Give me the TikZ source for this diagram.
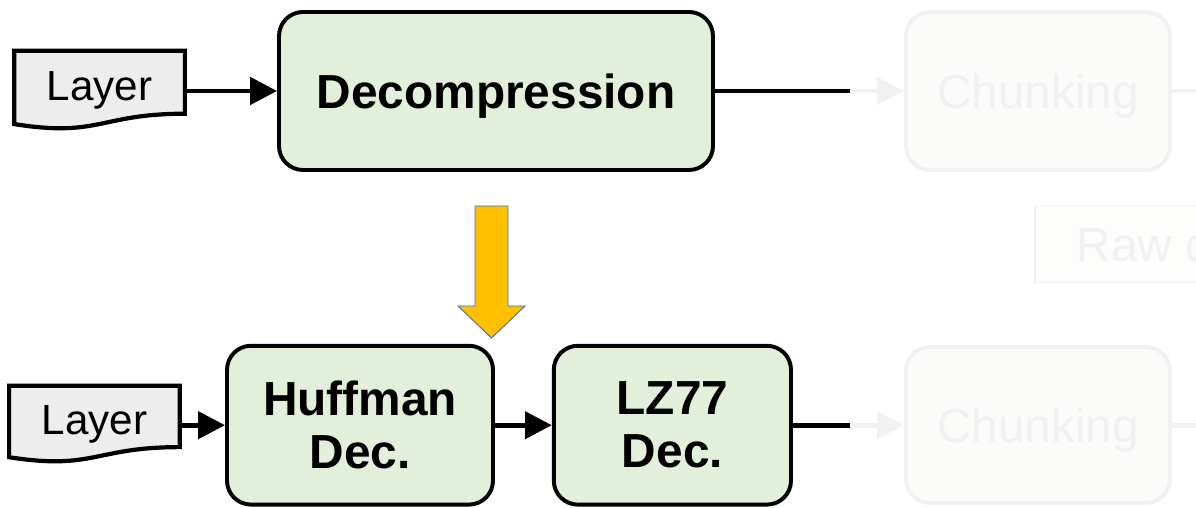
\documentclass[tikz,border=0pt]{standalone}
\usepackage{fontspec}
\setmainfont{Liberation Sans}
\usetikzlibrary{positioning,arrows.meta,calc}

\definecolor{boxgreen}{HTML}{E2EFDA}
\definecolor{docgray}{HTML}{EDEDED}
\definecolor{fadeline}{HTML}{F1F1F1}
\definecolor{fadefill}{HTML}{FBFCFA}
\definecolor{arrowgold}{HTML}{FFC000}
\definecolor{arrowedge}{HTML}{4472C4}

\tikzset{
  procbox/.style={draw, line width=2.8pt, rounded corners=0.6cm, fill=boxgreen,
    align=center, inner sep=0pt, font=\fontsize{34}{37.6}\selectfont\bfseries},
  fadebox/.style={draw=fadeline, line width=2.8pt, rounded corners=0.6cm, fill=fadefill,
    text=fadeline, inner sep=0pt, text depth=0pt, font=\fontsize{34}{40}\selectfont},
  docbox/.style={inner sep=0pt, font=\fontsize{30}{36}\selectfont},
  flow/.style={line width=3.4pt, -{Triangle[length=0.67cm,width=0.67cm]}},
  fadeflow/.style={flow, draw=fadeline},
}

% wavy-bottomed document outline around a docbox node
\newcommand{\docoutline}[1]{%
  \draw[line width=3pt, fill=docgray]
    (#1.north west) -- (#1.north east) -- ($(#1.north east)!0.802!(#1.south east)$)
    .. controls ($(#1.north)!0.802!(#1.south)$) and ($(#1.north)!1.107!(#1.south)$)
    .. ($(#1.north west)!0.934!(#1.south west)$) -- cycle;}

\begin{document}
\begin{tikzpicture}
    \useasboundingbox (0,0) rectangle (29.9,12.7);
    \clip (0,0) rectangle (29.9,12.7);

    % top row: single decompression stage
    \node[docbox, minimum width=4.25cm, minimum height=1.95cm] (layerA) at (2.49,10.45) {};
    \docoutline{layerA}
    \node[docbox] at (layerA) {Layer};
    \node[procbox, text depth=0pt, minimum width=10.85cm, minimum height=3.95cm] (decomp) at (12.4,10.425) {Decompression};
    \node[fadebox, minimum width=6.6cm, minimum height=3.95cm] (chunkA) at (25.95,10.425) {Chunking};
    \node[fadebox, rounded corners=0pt, line width=0.8pt, fill=fadefill!60!white,
          minimum width=7.13cm, minimum height=1.9cm] (raw) at (29.44,6.59) {Raw data};
    \coordinate (cutA) at (21.25,10.425);
    \coordinate (outA) at (29.9,10.425);

    \draw[flow] (layerA.east |- decomp.west) -- (decomp.west);
    \draw[fadeflow] (decomp.east) -- (chunkA.west);
    \draw[line width=3.4pt] (decomp.east) -- (cutA);
    \draw[line width=3.4pt, fadeline] (chunkA.east) -- (outA);

    % refinement arrow
    \draw[fill=arrowgold, draw=arrowedge, line width=0.7pt]
      (11.875,7.55) -- (12.7,7.55) -- (12.7,5.05) -- (13.125,5.05)
      -- (12.2875,4.25) -- (11.45,5.05) -- (11.875,5.05) -- cycle;

    % bottom row: Huffman + LZ77
    \node[docbox, minimum width=4.25cm, minimum height=1.9cm] (layerB) at (2.36,2.1) {};
    \docoutline{layerB}
    \node[docbox] at (layerB) {Layer};
    \node[procbox, minimum width=6.65cm, minimum height=3.97cm] (huff) at (9.0,2.07) {Huffman\\Dec.};
    \node[procbox, minimum width=5.93cm, minimum height=3.97cm] (lz) at (16.81,2.07) {LZ77\\Dec.};
    \node[fadebox, minimum width=6.6cm, minimum height=3.9cm] (chunkB) at (25.95,2.075) {Chunking};
    \coordinate (cutB) at (21.25,2.07);
    \coordinate (outB) at (29.9,2.07);

    \draw[flow] (layerB.east |- huff.west) -- (huff.west);
    \draw[flow] (huff) -- (lz);
    \draw[fadeflow] (lz.east) -- (chunkB.west |- lz.east);
    \draw[line width=3.4pt] (lz.east) -- (cutB);
    \draw[line width=3.4pt, fadeline] (chunkB.east |- lz.east) -- (outB);
\end{tikzpicture}
\end{document}
